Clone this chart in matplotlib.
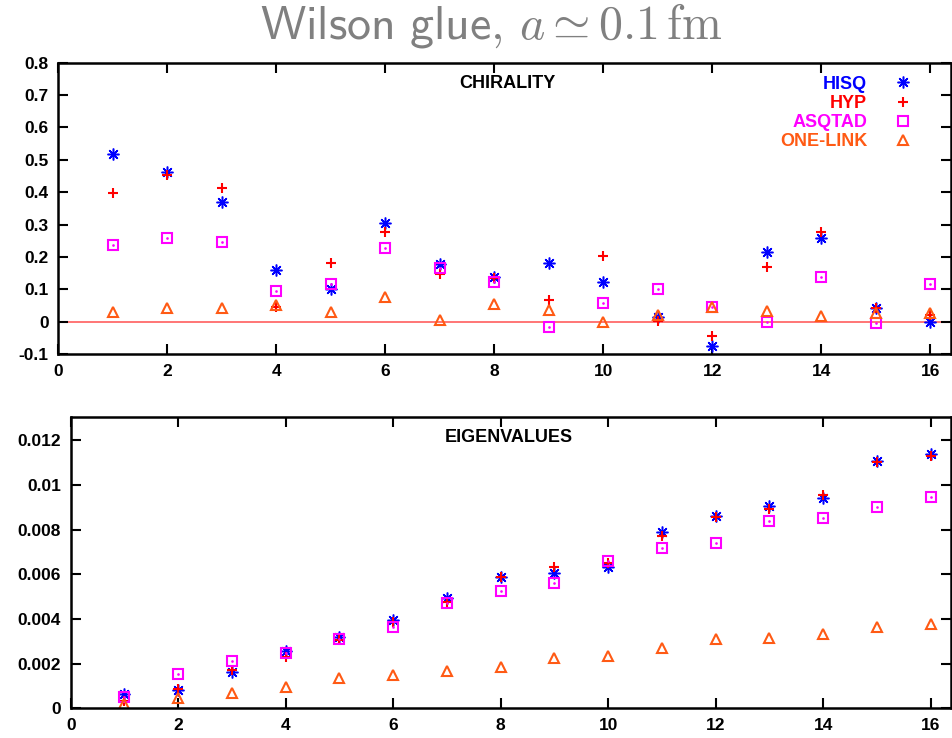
import matplotlib
matplotlib.use("Agg")
import matplotlib.pyplot as plt
from matplotlib.ticker import FuncFormatter, MultipleLocator

plt.rcParams['font.family'] = ['Liberation Sans', 'DejaVu Sans']
plt.rcParams['mathtext.fontset'] = 'cm'

modes = list(range(1, 17))

# chirality per mode
chi_hisq = [0.518, 0.463, 0.370, 0.160, 0.101, 0.304, 0.178, 0.139, 0.182, 0.123,
            0.014, -0.075, 0.216, 0.259, 0.041, 0.000]
chi_hyp = [0.398, 0.453, 0.412, 0.046, 0.182, 0.278, 0.146, 0.134, 0.067, 0.203,
           0.002, -0.044, 0.168, 0.278, 0.041, 0.021]
chi_asqtad = [0.236, 0.259, 0.246, 0.095, 0.116, 0.227, 0.167, 0.122, -0.015, 0.057,
              0.100, 0.044, 0.000, 0.139, -0.005, 0.116]
chi_onelink = [0.029, 0.043, 0.043, 0.052, 0.029, 0.075, 0.005, 0.054, 0.036, 0.000,
               0.021, 0.044, 0.034, 0.019, 0.026, 0.026]

# eigenvalues per mode
ev_hisq = [0.00064, 0.00082, 0.00164, 0.00258, 0.00320, 0.00395, 0.00492, 0.00589,
           0.00607, 0.00634, 0.00790, 0.00862, 0.00907, 0.00940, 0.01108, 0.01138]
ev_hyp = [0.00034, 0.00085, 0.00171, 0.00228, 0.00306, 0.00388, 0.00477, 0.00589,
          0.00634, 0.00652, 0.00771, 0.00855, 0.00890, 0.00953, 0.01104, 0.01131]
ev_asqtad = [0.00049, 0.00152, 0.00213, 0.00246, 0.00312, 0.00365, 0.00473, 0.00525,
             0.00560, 0.00659, 0.00716, 0.00741, 0.00838, 0.00850, 0.00902, 0.00947]
ev_onelink = [0.00019, 0.00045, 0.00070, 0.00097, 0.00134, 0.00149, 0.00168, 0.00186,
              0.00227, 0.00236, 0.00271, 0.00309, 0.00316, 0.00331, 0.00363, 0.00376]

names = ['HISQ', 'HYP', 'ASQTAD', 'ONE-LINK']
colors = ['#0000ff', '#ff0000', '#ff00ff', '#ff5a14']


def draw(ax, series, legend=False):
    h, p, s, t = series
    ax.plot(modes, h, ls='none', marker=(8, 2, 0), ms=8.5, mew=1.1,
            color=colors[0], label=names[0])
    ax.plot(modes, p, ls='none', marker='+', ms=7.5, mew=1.5,
            color=colors[1], label=names[1])
    ax.plot(modes, s, ls='none', marker='s', ms=7, mew=1.5, mfc='none',
            color=colors[2], label=names[2])
    ax.plot(modes, s, ls='none', marker='.', ms=1.8, color=colors[2])
    ax.plot(modes, t, ls='none', marker='^', ms=6.5, mew=1.5, mfc='none',
            color=colors[3], label=names[3])
    ax.set_xlim(0, 16.38)
    ax.xaxis.set_major_locator(MultipleLocator(2))
    ax.tick_params(direction='in', length=7, width=1.5, top=True, right=True,
                   labelsize=12.5, pad=7)
    for sp in ax.spines.values():
        sp.set_linewidth(1.8)
    if legend:
        leg = ax.legend(loc='upper right', markerfirst=False, frameon=False,
                        prop={'size': 13, 'weight': 'bold'}, handletextpad=0.9,
                        labelspacing=0.12, borderaxespad=0.4, handlelength=2.2,
                        bbox_to_anchor=(0.985, 1.005))
        for txt, c in zip(leg.get_texts(), colors):
            txt.set_color(c)


fig = plt.figure(figsize=(9.52, 7.38), dpi=100)
ax1 = fig.add_axes([0.0613, 0.5203, 0.9377, 0.3947])
ax2 = fig.add_axes([0.0743, 0.0402, 0.9247, 0.3951])

ax1.axhline(0, color='#ff6a6a', lw=1.3, zorder=0)
draw(ax1, (chi_hisq, chi_hyp, chi_asqtad, chi_onelink), legend=True)
ax1.set_ylim(-0.1, 0.8)
ax1.yaxis.set_major_locator(MultipleLocator(0.1))
ax1.yaxis.set_major_formatter(FuncFormatter(lambda v, _: '%g' % round(v, 3)))
ax1.text(0.503, 0.93, 'CHIRALITY', transform=ax1.transAxes, ha='center',
         va='center', fontsize=13, fontweight='bold')

draw(ax2, (ev_hisq, ev_hyp, ev_asqtad, ev_onelink))
ax2.set_ylim(0, 0.01305)
ax2.yaxis.set_major_locator(MultipleLocator(0.002))
ax2.yaxis.set_major_formatter(FuncFormatter(lambda v, _: '%g' % round(v, 5)))
ax2.text(0.498, 0.93, 'EIGENVALUES', transform=ax2.transAxes, ha='center',
         va='center', fontsize=13, fontweight='bold')

for ax in (ax1, ax2):
    for lab in ax.get_xticklabels() + ax.get_yticklabels():
        lab.set_fontweight('bold')

fig.text(0.516, 0.965, r'$\mathsf{Wilson\ glue,}\,a \simeq 0.1\,\mathrm{fm}$',
         ha='center', va='center', fontsize=34.5, color='#808080')

fig.savefig('out.png', dpi=100)
